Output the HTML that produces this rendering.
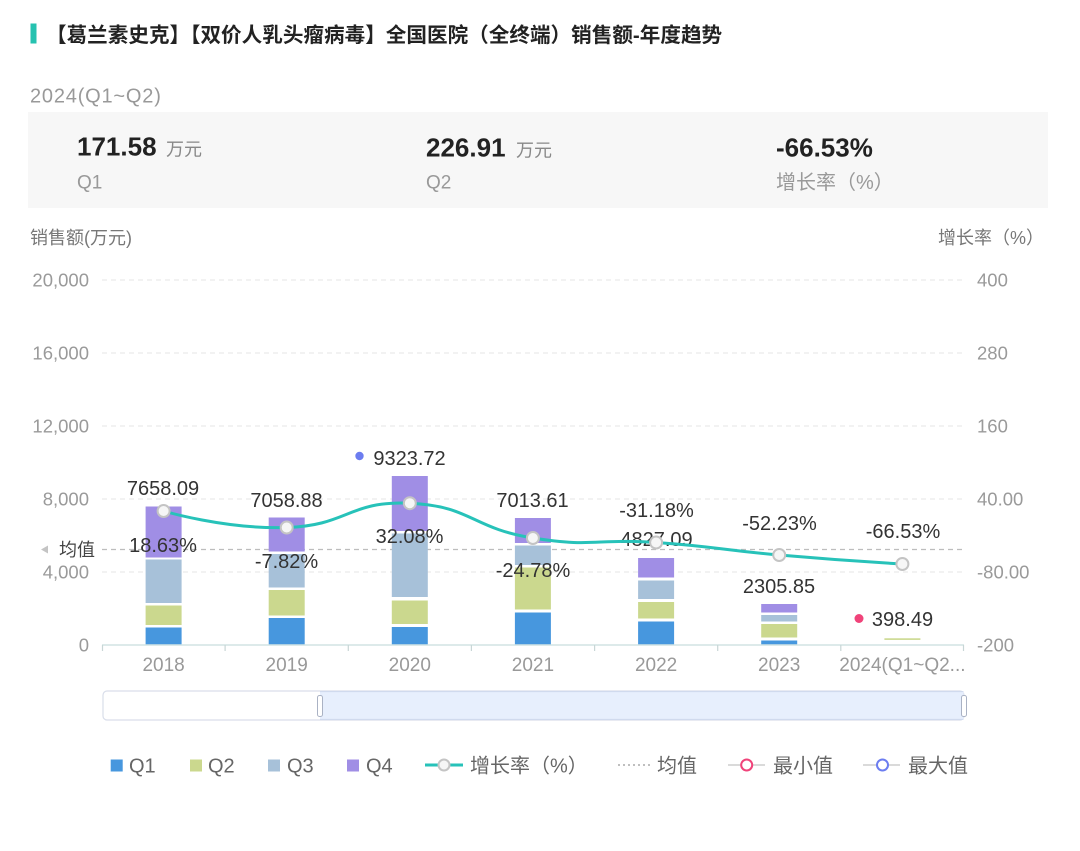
<!DOCTYPE html>
<html>
<head>
<meta charset="utf-8">
<style>
  html, body { margin:0; padding:0; background:#ffffff; }
  body { width:1080px; height:851px; overflow:hidden; }
  svg { display:block; }
  text { font-family: "Liberation Sans", "Noto Sans CJK SC", sans-serif; }
</style>
</head>
<body>
<svg width="1080" height="851" viewBox="0 0 1080 851" xmlns="http://www.w3.org/2000/svg">
  <rect x="0" y="0" width="1080" height="851" fill="#ffffff"/>

  <!-- Title -->
  <rect x="30.5" y="23.5" width="6" height="20" fill="#26c2b0"/>
  <text x="46" y="41.8" font-size="20.6" font-weight="bold" fill="#222">【葛兰素史克】【双价人乳头瘤病毒】全国医院（全终端）销售额-年度趋势</text>

  <!-- Period -->
  <text x="30" y="102.5" font-size="20" fill="#999" letter-spacing="0.8">2024(Q1~Q2)</text>

  <!-- Summary box -->
  <rect x="28" y="112" width="1020" height="96" fill="#f7f7f7"/>
  <text x="77" y="155.5" font-size="26" font-weight="bold" fill="#222">171.58</text>
  <text x="166" y="155.5" font-size="18" fill="#888">万元</text>
  <text x="77" y="188.5" font-size="19" fill="#999">Q1</text>

  <text x="426" y="156.5" font-size="26" font-weight="bold" fill="#222">226.91</text>
  <text x="516" y="156.5" font-size="18" fill="#888">万元</text>
  <text x="426" y="188.5" font-size="19" fill="#999">Q2</text>

  <text x="776" y="156.5" font-size="26" font-weight="bold" fill="#222">-66.53%</text>
  <text x="776" y="189" font-size="20" fill="#999">增长率（%）</text>

  <!-- Axis titles -->
  <text x="30" y="244" font-size="18" fill="#777">销售额(万元)</text>
  <text x="938" y="244" font-size="18" fill="#777">增长率（%）</text>

  <!-- Grid lines -->
  <g stroke="#e4e4e4" stroke-width="1" stroke-dasharray="5 4">
    <line x1="102" y1="280" x2="964" y2="280"/>
    <line x1="102" y1="353" x2="964" y2="353"/>
    <line x1="102" y1="426" x2="964" y2="426"/>
    <line x1="102" y1="499" x2="964" y2="499"/>
    <line x1="102" y1="572" x2="964" y2="572"/>
  </g>

  <!-- Left axis labels -->
  <g font-size="18.5" fill="#9a9a9a" text-anchor="end">
    <text x="89" y="286.5">20,000</text>
    <text x="89" y="359.5">16,000</text>
    <text x="89" y="432.5">12,000</text>
    <text x="89" y="505.5">8,000</text>
    <text x="89" y="578.5">4,000</text>
    <text x="89" y="651.5">0</text>
  </g>
  <!-- Right axis labels -->
  <g font-size="18.5" fill="#9a9a9a">
    <text x="977" y="286.5">400</text>
    <text x="977" y="359.5">280</text>
    <text x="977" y="432.5">160</text>
    <text x="977" y="505.5">40.00</text>
    <text x="977" y="578.5">-80.00</text>
    <text x="977" y="651.5">-200</text>
  </g>

  <!-- Average mark line -->
  <line x1="102" y1="549.5" x2="964" y2="549.5" stroke="#bdbdbd" stroke-width="1.2" stroke-dasharray="5 4"/>
  <polygon points="41,549.5 48,545.5 48,553.5" fill="#c4c4c4"/>
  <text x="59" y="556" font-size="18" fill="#444">均值</text>

  <!-- Bars -->
  <!-- 2018 -->
  <rect x="145.6" y="627.5" width="36" height="17.5" fill="#4797de"/>
  <rect x="145.6" y="605.5" width="36" height="19.5" fill="#cbd88e"/>
  <rect x="145.6" y="559.5" width="36" height="43.5" fill="#a7c1d9"/>
  <rect x="145.6" y="506.5" width="36" height="51" fill="#a08ee5"/>
  <!-- 2019 -->
  <rect x="268.7" y="618" width="36" height="27" fill="#4797de"/>
  <rect x="268.7" y="590" width="36" height="25.5" fill="#cbd88e"/>
  <rect x="268.7" y="554" width="36" height="33.5" fill="#a7c1d9"/>
  <rect x="268.7" y="517.5" width="36" height="34" fill="#a08ee5"/>
  <!-- 2020 -->
  <rect x="391.8" y="627" width="36" height="18" fill="#4797de"/>
  <rect x="391.8" y="600.5" width="36" height="23.5" fill="#cbd88e"/>
  <rect x="391.8" y="533.5" width="36" height="63.5" fill="#a7c1d9"/>
  <rect x="391.8" y="476" width="36" height="55" fill="#a08ee5"/>
  <!-- 2021 -->
  <rect x="514.9" y="612.5" width="36" height="32.5" fill="#4797de"/>
  <rect x="514.9" y="567.5" width="36" height="42" fill="#cbd88e"/>
  <rect x="514.9" y="545.5" width="36" height="19.5" fill="#a7c1d9"/>
  <rect x="514.9" y="518" width="36" height="25" fill="#a08ee5"/>
  <!-- 2022 -->
  <rect x="638.1" y="621.5" width="36" height="23.5" fill="#4797de"/>
  <rect x="638.1" y="602" width="36" height="16.5" fill="#cbd88e"/>
  <rect x="638.1" y="580.5" width="36" height="18.5" fill="#a7c1d9"/>
  <rect x="638.1" y="558" width="36" height="19.5" fill="#a08ee5"/>
  <!-- 2023 -->
  <rect x="761.2" y="640.5" width="36" height="4.5" fill="#4797de"/>
  <rect x="761.2" y="624" width="36" height="13.5" fill="#cbd88e"/>
  <rect x="761.2" y="615" width="36" height="6.5" fill="#a7c1d9"/>
  <rect x="761.2" y="604" width="36" height="8.5" fill="#a08ee5"/>
  <!-- 2024 -->
  <rect x="884.4" y="638.3" width="36" height="1.6" fill="#cbd88e"/>

  <!-- X axis -->
  <line x1="102" y1="645" x2="964" y2="645" stroke="#d2e4e4" stroke-width="1.5"/>
  <g stroke="#c8d6d6" stroke-width="1.2">
    <line x1="102.5" y1="645" x2="102.5" y2="651"/>
    <line x1="225.1" y1="645" x2="225.1" y2="651"/>
    <line x1="348.3" y1="645" x2="348.3" y2="651"/>
    <line x1="471.4" y1="645" x2="471.4" y2="651"/>
    <line x1="594.6" y1="645" x2="594.6" y2="651"/>
    <line x1="717.7" y1="645" x2="717.7" y2="651"/>
    <line x1="840.8" y1="645" x2="840.8" y2="651"/>
    <line x1="963.5" y1="645" x2="963.5" y2="651"/>
  </g>
  <g font-size="19" fill="#999" text-anchor="middle">
    <text x="163.6" y="671">2018</text>
    <text x="286.7" y="671">2019</text>
    <text x="409.8" y="671">2020</text>
    <text x="532.9" y="671">2021</text>
    <text x="656.1" y="671">2022</text>
    <text x="779.2" y="671">2023</text>
    <text x="902.4" y="671">2024(Q1~Q2...</text>
  </g>

  <!-- Bar total labels -->
  <g font-size="20" fill="#333" text-anchor="middle">
    <text x="163" y="495">7658.09</text>
    <text x="286.5" y="507">7058.88</text>
    <text x="409.5" y="465">9323.72</text>
    <text x="532.5" y="507">7013.61</text>
    <text x="656.5" y="546">4827.09</text>
    <text x="779" y="593">2305.85</text>
    <text x="902.5" y="626">398.49</text>
  </g>
  <circle cx="359.5" cy="456" r="4.2" fill="#6c7df0"/>
  <circle cx="859" cy="618.5" r="4.5" fill="#f0437a"/>

  <!-- Growth line -->
  <path d="M163.6,511 C163.6,511 225.15,529.45 286.7,527.5 C348.25,525.55 348.25,500.57 409.8,503.2 C471.35,505.83 471.3,528.17 532.9,538 C594.5,547.83 594.5,538.25 656.1,542.5 C717.65,546.75 717.65,549.62 779.2,555 C840.75,560.38 902.4,564 902.4,564"
        fill="none" stroke="#27c2b9" stroke-width="3" stroke-linecap="round"/>
  <g fill="#f6f6f6" stroke="#c4c4c4" stroke-width="2">
    <circle cx="163.6" cy="511" r="6"/>
    <circle cx="286.7" cy="527.5" r="6"/>
    <circle cx="409.8" cy="503.2" r="6"/>
    <circle cx="532.9" cy="538" r="6"/>
    <circle cx="656.1" cy="542.5" r="6"/>
    <circle cx="779.2" cy="555" r="6"/>
    <circle cx="902.4" cy="564" r="6"/>
  </g>

  <!-- Growth labels -->
  <g font-size="20" fill="#333" text-anchor="middle">
    <text x="163" y="552">18.63%</text>
    <text x="286.5" y="568">-7.82%</text>
    <text x="409.5" y="543">32.08%</text>
    <text x="533" y="577">-24.78%</text>
    <text x="656.5" y="517">-31.18%</text>
    <text x="779.5" y="530">-52.23%</text>
    <text x="903" y="538">-66.53%</text>
  </g>

  <!-- Data zoom slider -->
  <rect x="103" y="691" width="861" height="29" rx="4" ry="4" fill="#ffffff" stroke="#d9deea" stroke-width="1.2"/>
  <rect x="320" y="691.6" width="643.5" height="27.8" fill="#e7effd"/>
  <line x1="320" y1="691.6" x2="963.5" y2="691.6" stroke="#cfd9ef" stroke-width="1"/>
  <line x1="320" y1="719.4" x2="963.5" y2="719.4" stroke="#cfd9ef" stroke-width="1"/>
  <rect x="317.5" y="695.5" width="5" height="21" rx="2" ry="2" fill="#ffffff" stroke="#aab2c4" stroke-width="1"/>
  <rect x="961.5" y="695.5" width="5" height="21" rx="2" ry="2" fill="#ffffff" stroke="#aab2c4" stroke-width="1"/>

  <!-- Legend -->
  <rect x="110.7" y="759.5" width="12" height="12" fill="#4797de"/>
  <text x="129" y="772.5" font-size="20" fill="#666">Q1</text>
  <rect x="190" y="759.5" width="12" height="12" fill="#cbd88e"/>
  <text x="208" y="772.5" font-size="20" fill="#666">Q2</text>
  <rect x="268" y="759.5" width="12" height="12" fill="#a7c1d9"/>
  <text x="287" y="772.5" font-size="20" fill="#666">Q3</text>
  <rect x="347" y="759.5" width="12" height="12" fill="#a08ee5"/>
  <text x="366" y="772.5" font-size="20" fill="#666">Q4</text>

  <line x1="425" y1="765" x2="463" y2="765" stroke="#27c2b9" stroke-width="3"/>
  <circle cx="444" cy="765" r="5.5" fill="#f6f6f6" stroke="#c4c4c4" stroke-width="2"/>
  <text x="470" y="772.5" font-size="20" fill="#666">增长率（%）</text>

  <line x1="618" y1="765" x2="650" y2="765" stroke="#aaaaaa" stroke-width="1.5" stroke-dasharray="2 3"/>
  <text x="657" y="772.5" font-size="20" fill="#666">均值</text>

  <line x1="728" y1="765" x2="765" y2="765" stroke="#dadada" stroke-width="2"/>
  <circle cx="746.7" cy="765" r="5.5" fill="#ffffff" stroke="#f0437a" stroke-width="2"/>
  <text x="773" y="772.5" font-size="20" fill="#666">最小值</text>

  <line x1="863" y1="765" x2="900" y2="765" stroke="#dadada" stroke-width="2"/>
  <circle cx="882.5" cy="765" r="5.5" fill="#ffffff" stroke="#6c7df0" stroke-width="2"/>
  <text x="908" y="772.5" font-size="20" fill="#666">最大值</text>
</svg>
</body>
</html>
